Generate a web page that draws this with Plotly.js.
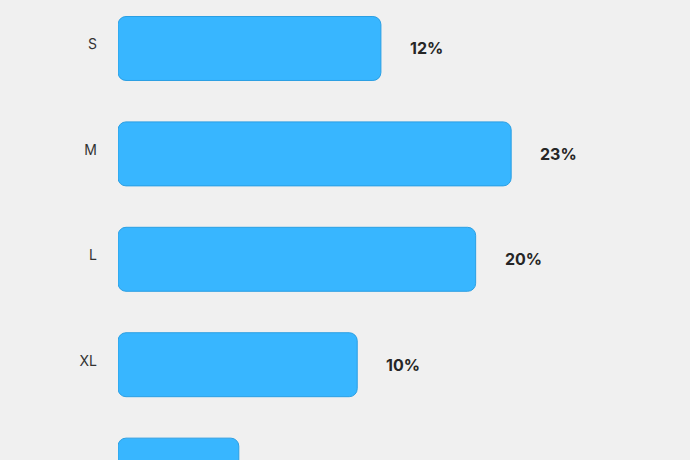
<!DOCTYPE html>
<html>
<head>
<meta charset="utf-8">
<script src="https://cdn.plot.ly/plotly-3.0.1.min.js"></script>
<style>
  html, body { margin:0; padding:0; background:#f0f0f0; }
  #chart { width:690px; height:460px; }
</style>
</head>
<body>
<div id="chart"></div>
<script>
// ======================= DATA =======================
const sizes = ['S', 'M', 'L', 'XL', 'XXL'];
const shares = [12, 23, 20, 10, 0];
const shareLabels = ['12%', '23%', '20%', '10%', '0%'];

// bars start a little left of zero on the axis
const barBase = -10.2;

// ======================= PLOT =======================
const trace = {
  type: 'bar',
  orientation: 'h',
  y: sizes,
  x: shares.map(v => v - barBase),
  base: barBase,
  marker: {
    color: '#38b6ff',
    line: { color: '#2b9fe3', width: 1 },
    cornerradius: 8
  },
  hoverinfo: 'skip'
};

const annotations = sizes.map((s, i) => ({
  x: shares[i], y: s, xref: 'x', yref: 'y',
  text: '<b>' + shareLabels[i] + '</b>',
  showarrow: false, xanchor: 'left', yanchor: 'middle',
  xshift: 27,
  font: { family: 'Inter, "Open Sans", sans-serif', size: 16, color: '#262626' }
}));

const layout = {
  width: 690, height: 460,
  margin: { t: 0, b: 0, l: 118, r: 0 },
  paper_bgcolor: '#f0f0f0',
  plot_bgcolor: '#f0f0f0',
  showlegend: false,
  bargap: 0.393,
  xaxis: {
    range: [barBase, 38.1],
    visible: false, showgrid: false, zeroline: false
  },
  yaxis: {
    type: 'category',
    range: [3.904, -0.46],
    showgrid: false, zeroline: false, showline: false,
    ticks: '',
    ticklabelstandoff: 20,
    ticklabelshift: 4,
    tickfont: { family: 'Inter, "Open Sans", sans-serif', size: 14, color: '#333333' }
  },
  annotations: annotations
};

Plotly.newPlot('chart', [trace], layout, { displayModeBar: false, staticPlot: true });
</script>
</body>
</html>
